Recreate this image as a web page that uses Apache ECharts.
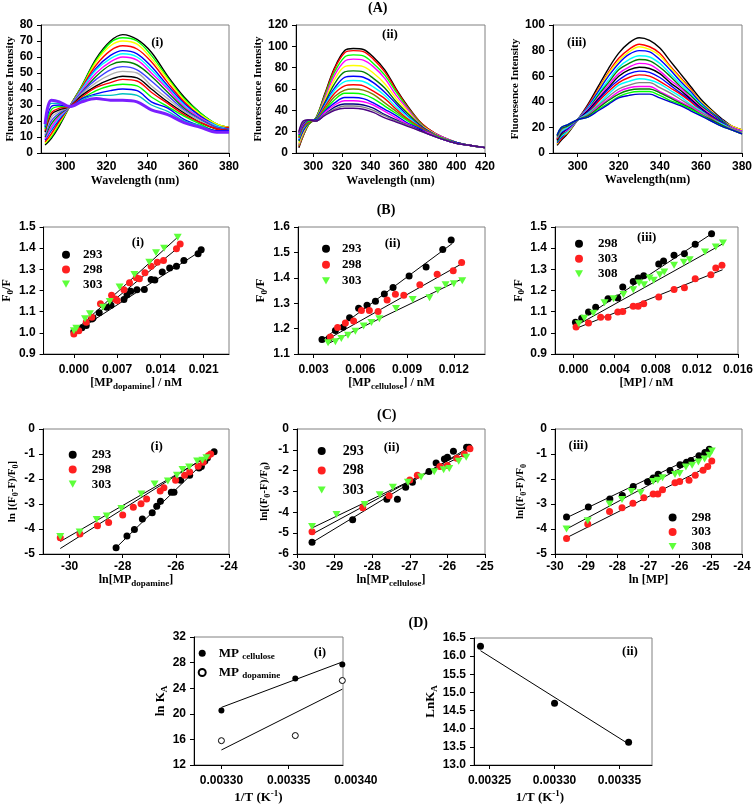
<!DOCTYPE html>
<html><head><meta charset="utf-8">
<script src="https://cdn.jsdelivr.net/npm/echarts@6/dist/echarts.min.js"></script>
<style>html,body{margin:0;padding:0;background:#fff}#c{width:756px;height:809px}</style>
</head><body><div id="c"></div>
<script>
// ---------- DATA ----------
// (A) fluorescence spectra
const A1_wl = [290,293,297,302,308,315,322,328,335,342,350,358,366,374,380];
const A1_I = [
 [5,9,17,29,42,59,70,74,71,63,48,35,25,18,16],
 [6,10,18,29,42,58,69,72,70,61,47,34,25,18,16],
 [6,11,19,29,41,57,67,70,68,59,46,33,24,18,16],
 [7,12,20,29,41,55,64,67,65,57,44,32,23,17,16],
 [8,14,21,29,40,53,61,64,62,54,42,31,23,17,15],
 [9,15,22,29,40,52,59,62,60,52,41,30,22,17,15],
 [9,16,23,29,39,50,57,60,58,50,40,29,22,16,15],
 [10,18,24,29,38,48,55,57,55,48,38,28,21,16,15],
 [11,20,25,29,38,46,52,54,52,45,36,27,21,16,15],
 [12,22,26,29,37,44,49,51,50,42,34,26,20,15,14],
 [13,24,27,29,36,42,46,48,47,40,32,25,19,15,14],
 [14,25,28,29,35,41,44,46,45,38,31,24,19,15,14],
 [15,27,29,29,34,39,42,43,42,35,29,23,18,14,14],
 [16,29,30,29,34,37,39,40,39,32,28,21,17,14,14],
 [17,31,31,29,33,36,36,37,36,30,26,20,17,13,13],
 [18,33,32,29,32,34,33,33,32,27,24,19,16,13,13]
];
const A2_wl = [290,293,297,302,308,315,322,328,335,342,350,358,366,374,380,390,400,410,420];
const A2_I = [
 [5,16,27,33,55,80,96,98,97,90,78,60,44,30,23,15,10,7,5],
 [6,16,27,33,54,79,94,96,95,88,76,59,43,30,23,15,10,7,5],
 [7,17,27,33,53,76,90,92,91,84,73,57,42,29,22,15,10,7,5],
 [8,18,28,32,51,73,86,88,87,81,70,54,41,28,22,15,10,7,5],
 [9,19,28,32,49,69,81,82,81,75,65,51,39,27,22,14,10,7,5],
 [11,21,28,32,47,65,76,77,76,70,61,48,37,27,21,14,10,7,5],
 [12,21,29,32,46,61,71,72,71,66,57,46,35,26,21,14,10,7,5],
 [13,23,29,31,44,59,67,68,67,62,54,43,34,25,20,14,9,7,5],
 [14,24,29,31,43,56,63,64,63,58,51,41,32,25,20,14,9,7,5],
 [15,25,30,31,41,53,59,60,59,55,47,39,31,24,20,14,9,7,5],
 [16,26,30,31,40,50,56,56,55,51,44,37,30,23,19,14,9,7,5],
 [17,26,31,31,39,47,52,52,51,47,41,35,28,23,19,13,9,7,5],
 [18,27,31,30,38,45,49,49,48,45,39,33,27,22,19,13,9,7,5],
 [19,28,31,30,36,43,46,46,45,42,36,31,26,22,18,13,9,7,5],
 [19,29,31,30,36,41,44,44,43,40,35,30,26,21,18,13,9,7,5],
 [20,30,31,30,35,40,42,42,41,38,33,29,25,21,18,13,9,7,5]
];
const A3_wl = [290,292,295,300,305,310,315,320,325,330,335,340,345,350,355,360,365,370,375,380];
const A3_I = [
 [6,10,15,26,38,52,66,78,86,90,88,82,72,62,52,42,34,27,21,18],
 [7,11,16,26,37,50,63,74,81,85,83,78,68,59,50,40,33,26,21,18],
 [7,12,16,26,36,49,62,72,79,83,81,76,67,58,49,40,33,26,21,18],
 [8,12,17,26,36,48,60,70,77,80,79,73,65,56,48,39,32,26,20,17],
 [9,13,17,26,35,46,57,67,73,76,75,70,62,54,46,38,31,25,20,17],
 [9,14,18,26,34,45,55,65,70,73,72,67,60,52,45,37,31,25,20,17],
 [10,15,18,26,34,43,53,62,67,70,69,64,57,51,43,36,30,24,20,17],
 [10,15,19,26,33,42,51,60,65,67,66,62,55,49,42,35,29,24,19,16],
 [11,16,19,26,32,41,50,57,62,64,63,59,53,47,41,34,29,24,19,16],
 [11,17,20,26,31,40,48,55,59,61,60,56,51,46,40,33,28,23,19,16],
 [12,17,20,26,31,38,46,53,56,58,57,54,49,44,38,33,27,23,19,16],
 [12,18,21,26,30,37,44,50,53,55,55,51,47,42,37,32,27,22,19,16],
 [13,19,21,26,29,36,42,48,51,52,52,48,44,40,36,31,26,22,18,15],
 [13,19,21,26,29,35,41,46,49,50,50,47,43,39,35,30,26,22,18,15],
 [14,20,22,26,28,34,39,44,47,48,48,45,41,38,34,30,25,21,18,15],
 [14,20,22,26,28,33,38,43,45,46,46,43,40,37,33,29,25,21,18,15]
];
const A1_colors = ['#000000','#00ff00','#ffff00','#ff0000','#0000ff','#00ffff','#ff00ff','#008000','#4040ff','#b0b0b0','#000000','#ff0000','#00ff00','#0000ff','#00c0c0','#7b1fff'];
const A2_colors = ['#000000','#ff0000','#00ff00','#ff00ff','#ffff00','#008000','#0000ff','#00ffff','#ff0000','#808000','#00ff00','#0000ff','#ff00ff','#000080','#808080','#4b0082'];
const A3_colors = ['#000000','#ff0000','#ffff00','#0000ff','#00ffff','#008000','#ff00ff','#000000','#0000ff','#ff0000','#00ffff','#808080','#ff00ff','#008000','#00ff00','#0000cc'];

// (B) Stern-Volmer
const B1_293_x = [0.0000,0.0013,0.0020,0.0029,0.0031,0.0041,0.0053,0.0060,0.0081,0.0086,0.0092,0.0102,0.0114,0.0125,0.0131,0.0143,0.0155,0.0166,0.0178,0.0201,0.0206];
const B1_293_y = [1.006,1.024,1.035,1.065,1.070,1.095,1.121,1.130,1.158,1.180,1.196,1.203,1.205,1.252,1.250,1.287,1.306,1.315,1.342,1.374,1.393];
const B1_298_x = [0.0000,0.0008,0.0020,0.0029,0.0043,0.0061,0.0067,0.0070,0.0081,0.0090,0.0101,0.0106,0.0115,0.0125,0.0135,0.0145,0.0166,0.0172];
const B1_298_y = [0.995,1.010,1.050,1.074,1.137,1.177,1.160,1.153,1.203,1.237,1.260,1.255,1.284,1.314,1.334,1.342,1.397,1.420];
const B1_303_x = [0.0000,0.0004,0.0018,0.0026,0.0047,0.0058,0.0074,0.0098,0.0122,0.0133,0.0146,0.0168];
const B1_303_y = [1.010,1.022,1.066,1.090,1.121,1.148,1.216,1.276,1.334,1.378,1.400,1.452];
const B1_fit = {t293:[[0,1.0],[0.0207,1.39]], t298:[[0,1.0],[0.0172,1.41]], t303:[[0,1.005],[0.0168,1.452]]};

const B2_293_x = [0.00354,0.00401,0.0044,0.00489,0.00531,0.00589,0.00643,0.00697,0.00754,0.0081,0.00913,0.01022,0.01129,0.01183];
const B2_293_y = [1.157,1.163,1.193,1.205,1.243,1.280,1.292,1.308,1.336,1.362,1.407,1.443,1.511,1.549];
const B2_298_x = [0.00407,0.00454,0.00504,0.00557,0.00607,0.00658,0.00714,0.00772,0.00825,0.00879,0.00982,0.01093,0.01196,0.0125];
const B2_298_y = [1.167,1.204,1.222,1.230,1.271,1.271,1.267,1.313,1.335,1.331,1.373,1.414,1.428,1.460];
const B2_303_x = [0.00393,0.0044,0.00478,0.00521,0.00568,0.00621,0.00671,0.00722,0.00829,0.00936,0.01044,0.01097,0.01147,0.012,0.01254];
const B2_303_y = [1.144,1.148,1.161,1.174,1.190,1.210,1.224,1.239,1.279,1.315,1.321,1.351,1.373,1.377,1.388];
const B2_fit = {t293:[[0.00354,1.155],[0.0119,1.535]], t298:[[0.0041,1.165],[0.0125,1.455]], t303:[[0.0039,1.14],[0.0126,1.398]]};

const B3_298_x = [0.00019,0.0008,0.00146,0.00216,0.00336,0.00431,0.00479,0.00581,0.00629,0.00683,0.00829,0.00876,0.00978,0.01079,0.01184,0.01343];
const B3_298_y = [1.050,1.069,1.098,1.121,1.161,1.164,1.216,1.243,1.259,1.270,1.325,1.339,1.366,1.374,1.418,1.468];
const B3_303_x = [0.00025,0.00146,0.00264,0.00336,0.00431,0.00479,0.00581,0.00629,0.00683,0.00829,0.00978,0.01079,0.01184,0.01336,0.01384,0.01444];
const B3_303_y = [1.027,1.046,1.074,1.074,1.098,1.101,1.126,1.126,1.137,1.169,1.205,1.213,1.256,1.274,1.306,1.319];
const B3_308_x = [0.00051,0.00105,0.00194,0.00302,0.0039,0.00486,0.00581,0.00638,0.00686,0.0074,0.0078,0.0084,0.00883,0.00978,0.01073,0.0113,0.01279,0.01384,0.01454];
const B3_308_y = [1.043,1.069,1.093,1.142,1.161,1.181,1.203,1.235,1.227,1.259,1.248,1.274,1.287,1.319,1.334,1.345,1.382,1.405,1.424];
const B3_fit = {t298:[[0.0002,1.045],[0.0135,1.47]], t303:[[0.0002,1.02],[0.0145,1.298]], t308:[[0.0003,1.035],[0.0145,1.42]]};

// (C) double log
const C1_293_x = [-28.25,-27.84,-27.56,-27.26,-26.89,-26.72,-26.58,-26.17,-26.07,-25.82,-25.48,-25.13,-25.04,-24.91,-24.81,-24.56];
const C1_293_y = [-4.75,-4.28,-4.02,-3.60,-3.35,-3.09,-2.89,-2.53,-2.53,-2.05,-1.85,-1.56,-1.50,-1.28,-1.15,-0.91];
const C1_298_x = [-30.35,-29.61,-28.95,-28.53,-28.0,-27.6,-27.31,-27.1,-26.59,-26.45,-26.01,-25.67,-25.48,-25.16,-24.97,-24.78,-24.69];
const C1_298_y = [-4.35,-4.2,-3.87,-3.74,-3.44,-3.13,-2.99,-2.8,-2.48,-2.35,-2.05,-1.85,-1.72,-1.49,-1.33,-1.07,-1.0];
const C1_303_x = [-30.35,-29.62,-28.98,-28.6,-28.05,-27.3,-26.8,-26.3,-25.96,-25.75,-25.5,-25.2,-25.0,-24.85];
const C1_303_y = [-4.3,-4.12,-3.62,-3.48,-3.18,-2.6,-2.2,-2.08,-1.85,-1.62,-1.52,-1.28,-1.25,-1.15];
const C1_fit = {t293:[[-28.3,-4.8],[-24.55,-0.92]], t298:[[-30.35,-4.78],[-24.7,-1.0]], t303:[[-30.35,-4.5],[-24.8,-1.1]]};

const C2_293_x = [-29.6,-28.52,-27.61,-27.33,-27.11,-26.93,-26.49,-26.3,-26.08,-26.0,-25.84,-25.49,-25.43];
const C2_293_y = [-5.44,-4.36,-3.37,-3.37,-2.79,-2.55,-2.04,-1.63,-1.44,-1.35,-1.07,-0.87,-0.87];
const C2_298_x = [-29.6,-28.25,-27.55,-27.0,-26.8,-26.2,-26.0,-25.75,-25.55,-25.4];
const C2_298_y = [-4.93,-3.78,-3.2,-2.45,-2.22,-1.8,-1.75,-1.4,-1.2,-0.95];
const C2_303_x = [-29.6,-28.95,-28.2,-27.8,-27.45,-27.05,-26.7,-26.35,-26.1,-25.95,-25.7,-25.5];
const C2_303_y = [-4.68,-4.1,-3.62,-3.15,-2.8,-2.55,-2.3,-2.05,-1.95,-1.9,-1.55,-1.35];
const C2_fit = {t293:[[-29.6,-5.45],[-25.4,-0.85]], t298:[[-29.6,-5.05],[-25.4,-0.95]], t303:[[-29.6,-4.75],[-25.5,-1.2]]};

const C3_298_x = [-29.63,-28.93,-28.24,-27.84,-27.49,-27.03,-26.85,-26.69,-26.31,-25.99,-25.78,-25.64,-25.38,-25.19,-25.05];
const C3_298_y = [-3.52,-3.12,-2.8,-2.66,-2.3,-2.11,-1.96,-1.81,-1.66,-1.43,-1.33,-1.26,-1.07,-0.94,-0.81];
const C3_303_x = [-29.63,-28.95,-28.25,-27.85,-27.5,-27.15,-26.85,-26.7,-26.55,-26.15,-26.0,-25.7,-25.5,-25.25,-25.1,-24.97];
const C3_303_y = [-4.38,-3.8,-3.3,-3.15,-2.97,-2.75,-2.6,-2.6,-2.43,-2.15,-2.1,-2.05,-1.85,-1.65,-1.5,-1.28];
const C3_308_x = [-29.63,-28.95,-28.25,-27.85,-27.55,-27.25,-26.85,-26.7,-26.55,-26.15,-26.0,-25.8,-25.6,-25.4,-25.2,-25.05,-24.97];
const C3_308_y = [-4.0,-3.67,-3.0,-2.82,-2.5,-2.55,-2.1,-2.05,-1.95,-1.82,-1.78,-1.52,-1.45,-1.32,-1.2,-1.05,-0.88];
const C3_fit = {t298:[[-29.63,-3.55],[-25.05,-0.82]], t303:[[-29.63,-4.35],[-25.0,-1.45]], t308:[[-29.63,-4.0],[-24.97,-0.9]]};

// (D) van't Hoff
const D1_x = [0.0033, 0.003355, 0.00339];
const D1_cel = [20.5, 25.5, 27.7];
const D1_dop = [15.8, 16.6, 25.2];
const D1_fit = {cel:[[0.0033,21.0],[0.00339,28.1]], dop:[[0.0033,14.35],[0.00339,23.85]]};
const D2_x = [0.003243, 0.0033, 0.003357];
const D2_y = [16.27, 14.7, 13.63];
const D2_fit = [[0.003243,16.15],[0.003357,13.58]];

// tick labels
const A1_ticks = [300,320,340,360,380];
const A2_ticks = [300,320,340,360,380,400,420];
const A3_ticks = [300,320,340,360,380];
const B1_ticks = [0,0.007,0.014,0.021];
const B2_ticks = [0.003,0.006,0.009,0.012];
const B3_ticks = [0,0.004,0.008,0.012,0.016];
const C1_ticks = [-30,-28,-26,-24];
const D1_ticks = [0.0033,0.00335,0.0034];
const D2_ticks = [0.00325,0.0033,0.00335];

// ---------- STYLE / BUILD ----------
const SERIF = '"Liberation Serif","Times New Roman",serif';
const SANS = '"Liberation Sans",Arial,sans-serif';
const TRI_DOWN = 'path://M0,0L10,0L5,9Z';

function rich(fs){
  const s = Math.round(fs*0.72);
  return {
    b:{fontFamily:SERIF,fontWeight:'bold',fontSize:fs,color:'#000'},
    sub:{fontFamily:SERIF,fontWeight:'bold',fontSize:s,color:'#000',padding:[Math.round(fs*0.6),0,0,0]},
    sup:{fontFamily:SERIF,fontWeight:'bold',fontSize:s,color:'#000',padding:[0,0,Math.round(fs*0.6),0]}
  };
}
function nameStyle(fs, pad){
  const o = {color:'#000',fontFamily:SERIF,fontWeight:'bold',fontSize:fs,rich:rich(fs)};
  if(pad) o.padding = pad;
  return o;
}
function axisCommon(o){
  const a = {
    axisLine:{show:o.line!==false,onZero:false,lineStyle:{color:'#000',width:1}},
    axisTick:{show:o.tick!==false,length:4,lineStyle:{color:'#000'}},
    axisLabel:{show:o.label!==false,color:'#000',fontFamily:SANS,fontWeight:'bold',fontSize:12,margin:o.margin||8},
    splitLine:{show:false}
  };
  if(o.ticks){a.axisTick.customValues=o.ticks;a.axisLabel.customValues=o.ticks;}
  if(o.fmt) a.axisLabel.formatter=o.fmt;
  return a;
}
function xAx(gi,min,max,o){
  const a = Object.assign({type:'value',gridIndex:gi,min:min,max:max,position:'bottom'},axisCommon(o));
  if(o.interval) a.interval=o.interval;
  if(o.name){a.name=o.name;a.nameLocation='middle';a.nameGap=o.gap;a.nameTextStyle=nameStyle(o.fs||12,o.pad);}
  return a;
}
function yAx(gi,min,max,o){
  const a = Object.assign({type:'value',gridIndex:gi,min:min,max:max,position:'left'},axisCommon(o));
  if(o.interval) a.interval=o.interval;
  if(o.name){a.name=o.name;a.nameLocation='middle';a.nameRotate=90;a.nameGap=o.gap;a.nameTextStyle=nameStyle(o.fs||11.5,o.pad);}
  return a;
}

const G = (l,t,w,h)=>({left:l,top:t,width:w,height:h,show:true,borderColor:'#808080',borderWidth:1,backgroundColor:'transparent'});
const grid = [
  G(41,25,188,128), G(296,25,189,128), G(553,25,189,128),
  G(40,227,189,127), G(298,227,187,127), G(555,227,187,127),
  G(43,429,186,125), G(297,429,188,125), G(555,429,187,125),
  G(194,637,149,128), G(474,638,178,127),
  {left:194,top:637,width:175.3,height:128,show:false}
];
const f3 = v=>v.toFixed(3), f1 = v=>v.toFixed(1), f5 = v=>v.toFixed(5);
const WL1 = '{b|Wavelength (nm)}';
const xAxis = [
  xAx(0,288,380,{ticks:A1_ticks,name:WL1,gap:22}),
  xAx(1,288,420,{ticks:A2_ticks,name:WL1,gap:22}),
  xAx(2,288,380,{ticks:A3_ticks,name:'{b|Wavelength(nm)}',gap:21}),
  xAx(3,-0.0049,0.0251,{ticks:B1_ticks,fmt:f3,margin:10,name:'{b|[MP}{sub|dopamine}{b|] / nM}',gap:21}),
  xAx(4,0.002,0.014,{ticks:B2_ticks,fmt:f3,margin:10,name:'{b|[MP}{sub|cellulose}{b|] / nM}',gap:21}),
  xAx(5,-0.0018,0.016,{ticks:B3_ticks,fmt:f3,margin:10,name:'{b|[MP] / nM}',gap:21}),
  xAx(6,-31,-24,{ticks:C1_ticks,margin:7,name:'{b|ln[MP}{sub|dopamine}{b|]}',gap:18}),
  xAx(7,-30,-25,{interval:1,margin:7,name:'{b|ln[MP}{sub|cellulose}{b|]}',gap:18}),
  xAx(8,-30,-24,{interval:1,margin:7,name:'{b|ln [MP]}',gap:18}),
  xAx(9,0.0032796,0.0033905,{ticks:[0.0033,0.00335],label:false,name:'{b|1/T (K}{sup|-1}{b|)}',gap:24,fs:13,pad:[0,20,0,0]}),
  xAx(10,0.003238,0.003375,{ticks:D2_ticks,fmt:f5,margin:10,name:'{b|1/T (K}{sup|-1}{b|)}',gap:24,fs:13,pad:[0,46,0,0]}),
  xAx(11,0.0032796,0.00341,{ticks:D1_ticks,fmt:f5,margin:10,line:false,tick:false})
];
const yAxis = [
  yAx(0,0,80,{interval:10,name:'{b|Fluorescence Intensity}',gap:24,fs:11}),
  yAx(1,0,120,{interval:20,name:'{b|Fluorescence Intensity}',gap:29,fs:11}),
  yAx(2,0,100,{interval:20,name:'{b|Fluoresence Intensity}',gap:29,fs:11}),
  yAx(3,0.9,1.5,{interval:0.1,fmt:f1,name:'{b|F}{sub|0}{b|/F}',gap:26,fs:12}),
  yAx(4,1.1,1.6,{interval:0.1,fmt:f1,name:'{b|F}{sub|0}{b|/F}',gap:27,fs:13}),
  yAx(5,0.9,1.5,{interval:0.1,fmt:f1,name:'{b|F}{sub|0}{b|/F}',gap:28,fs:12}),
  yAx(6,-5,0,{interval:1,name:'{b|ln [(F}{sub|0}{b|-F)/F}{sub|0}{b|]}',gap:23,fs:11}),
  yAx(7,-6,0,{interval:1,name:'{b|ln[(F}{sub|0}{b|-F)/F}{sub|0}{b|)}',gap:25,fs:11}),
  yAx(8,-5,0,{interval:1,name:'{b|ln[(F}{sub|0}{b|-F)/F}{sub|0}',gap:27,fs:11}),
  yAx(9,12,32,{interval:4,name:'{b|ln K}{sub|A}',gap:25,fs:13}),
  yAx(10,13,16.5,{interval:0.5,fmt:f1,name:'{b|LnK}{sub|A}',gap:35,fs:13}),
  {type:'value',gridIndex:11,show:false,min:0,max:1}
];

const series = [];
function spectra(gi, wl, rows, colors){
  rows.forEach((r,i)=>{
    series.push({type:'line',xAxisIndex:gi,yAxisIndex:gi,smooth:0.35,showSymbol:false,silent:true,
      data:wl.map((w,k)=>[w,r[k]]),
      lineStyle:{color:colors[i%colors.length],width:(gi===0&&i===rows.length-1)?3:1.4}});
  });
}
spectra(0,A1_wl,A1_I,A1_colors);
spectra(1,A2_wl,A2_I,A2_colors);
spectra(2,A3_wl,A3_I,A3_colors);

const BLK='#000000', RED='#ff2020', GRN='#5dff3a';
function pts(gi,name,xs,ys,color,tri){
  series.push({type:'scatter',xAxisIndex:gi,yAxisIndex:gi,name:name,
    data:xs.map((x,i)=>[x,ys[i]]),
    symbol:tri?TRI_DOWN:'circle',symbolSize:tri?[8,7]:7,
    itemStyle:{color:color,opacity:1},z:3});
}
function fit(gi,p){
  series.push({type:'line',xAxisIndex:gi,yAxisIndex:gi,data:p,showSymbol:false,silent:true,
    lineStyle:{color:'#000',width:1},z:2});
}
// B
fit(3,B1_fit.t293);fit(3,B1_fit.t298);fit(3,B1_fit.t303);
pts(3,'B1|293',B1_293_x,B1_293_y,BLK);pts(3,'B1|298',B1_298_x,B1_298_y,RED);pts(3,'B1|303',B1_303_x,B1_303_y,GRN,true);
fit(4,B2_fit.t293);fit(4,B2_fit.t298);fit(4,B2_fit.t303);
pts(4,'B2|293',B2_293_x,B2_293_y,BLK);pts(4,'B2|298',B2_298_x,B2_298_y,RED);pts(4,'B2|303',B2_303_x,B2_303_y,GRN,true);
fit(5,B3_fit.t298);fit(5,B3_fit.t303);fit(5,B3_fit.t308);
pts(5,'B3|298',B3_298_x,B3_298_y,BLK);pts(5,'B3|303',B3_303_x,B3_303_y,RED);pts(5,'B3|308',B3_308_x,B3_308_y,GRN,true);
// C
fit(6,C1_fit.t293);fit(6,C1_fit.t298);fit(6,C1_fit.t303);
pts(6,'C1|293',C1_293_x,C1_293_y,BLK);pts(6,'C1|298',C1_298_x,C1_298_y,RED);pts(6,'C1|303',C1_303_x,C1_303_y,GRN,true);
fit(7,C2_fit.t293);fit(7,C2_fit.t298);fit(7,C2_fit.t303);
pts(7,'C2|293',C2_293_x,C2_293_y,BLK);pts(7,'C2|298',C2_298_x,C2_298_y,RED);pts(7,'C2|303',C2_303_x,C2_303_y,GRN,true);
fit(8,C3_fit.t298);fit(8,C3_fit.t303);fit(8,C3_fit.t308);
pts(8,'C3|298',C3_298_x,C3_298_y,BLK);pts(8,'C3|303',C3_303_x,C3_303_y,RED);pts(8,'C3|308',C3_308_x,C3_308_y,GRN,true);
// D
fit(9,D1_fit.cel);fit(9,D1_fit.dop);
series.push({type:'scatter',xAxisIndex:9,yAxisIndex:9,name:'D1|cel',data:D1_x.map((x,i)=>[x,D1_cel[i]]),symbol:'circle',symbolSize:6,itemStyle:{color:'#000',opacity:1},z:3});
series.push({type:'scatter',xAxisIndex:9,yAxisIndex:9,name:'D1|dop',data:D1_x.map((x,i)=>[x,D1_dop[i]]),symbol:'circle',symbolSize:6,itemStyle:{color:'#fff',borderColor:'#000',borderWidth:1,opacity:1},z:3});
fit(10,D2_fit);
series.push({type:'scatter',xAxisIndex:10,yAxisIndex:10,data:D2_x.map((x,i)=>[x,D2_y[i]]),symbol:'circle',symbolSize:7,itemStyle:{color:'#000',opacity:1},z:3});

function L(names,left,top,gap,pad,fs){
  return {orient:'vertical',left:left,top:top,itemWidth:8,itemHeight:8,itemGap:gap,padding:0,selectedMode:false,
    data:names,formatter:n=>n.split('|')[1],
    textStyle:{fontFamily:SERIF,fontWeight:'bold',fontSize:fs||13,color:'#000',lineHeight:12,padding:[0,0,0,pad]}};
}
const legend = [
  L(['B1|293','B1|298','B1|303'],62,248.3,1.7,8),
  L(['B2|293','B2|298','B2|303'],322,242.3,3,7),
  L(['B3|298','B3|303','B3|308'],575,237.3,2,10),
  L(['C1|293','C1|298','C1|303'],68.7,448.3,1.7,10),
  L(['C2|293','C2|298','C2|303'],317.7,444,5.5,12,14),
  L(['C3|298','C3|303','C3|308'],668.6,511,1.5,10),
  {orient:'vertical',left:197.7,top:646.7,itemWidth:7,itemHeight:7,itemGap:5.3,padding:0,selectedMode:false,
   data:['D1|cel','D1|dop'],
   formatter:n=>n==='D1|cel'?'{m|MP }{s|cellulose}':'{m|MP }{s|dopamine}',
   textStyle:{color:'#000',padding:[0,0,0,8],lineHeight:12,rich:{
     m:{fontFamily:SERIF,fontWeight:'bold',fontSize:13,color:'#000'},
     s:{fontFamily:SERIF,fontWeight:'bold',fontSize:9,color:'#000',padding:[6,0,0,0]}}}}
];

function T(text,x,y,fs){
  return {type:'text',x:x,y:y,silent:true,style:{text:text,fill:'#000',fontFamily:SERIF,fontWeight:'bold',fontSize:fs,align:'center',verticalAlign:'middle'}};
}
const graphic = [
  T('(A)',377.7,8,14), T('(B)',386,210,14), T('(C)',386.7,415,14), T('(D)',418.3,623.3,14),
  T('(i)',157.3,42.3,13), T('(ii)',390,34.3,13), T('(iii)',576.7,42.3,13),
  T('(i)',138,242.7,13), T('(ii)',392.7,243.3,13), T('(iii)',646.7,237.7,13),
  T('(i)',156.7,446.7,13), T('(ii)',391.7,447.3,13), T('(iii)',578.3,446,13),
  T('(i)',320,652.7,13), T('(ii)',630,651.7,13)
];

const chart = echarts.init(document.getElementById('c'),null,{renderer:'canvas'});
chart.setOption({animation:false,backgroundColor:'#fff',grid:grid,xAxis:xAxis,yAxis:yAxis,series:series,legend:legend,graphic:graphic});
</script></body></html>
